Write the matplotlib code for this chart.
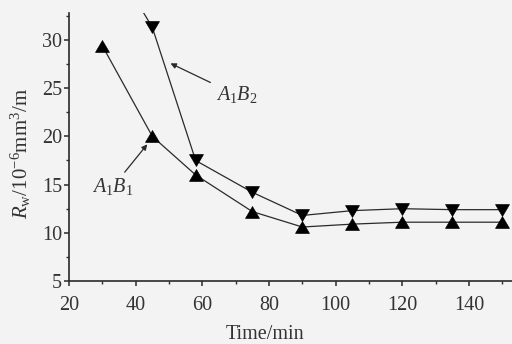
import matplotlib
matplotlib.use("Agg")
import matplotlib.pyplot as plt
from matplotlib.ticker import MultipleLocator

plt.rcParams['font.family'] = 'Liberation Serif'
plt.rcParams['mathtext.fontset'] = 'custom'
plt.rcParams['mathtext.rm'] = 'Liberation Serif'
plt.rcParams['mathtext.it'] = 'Liberation Serif:italic'

# data
time_b1 = [30, 45, 58, 75, 90, 105, 120, 135, 150]
rw_b1 = [29.4, 20.0, 16.0, 12.2, 10.6, 10.9, 11.1, 11.1, 11.1]
time_b2 = [30, 45, 58, 75, 90, 105, 120, 135, 150]
rw_b2 = [40.0, 31.3, 17.5, 14.2, 11.8, 12.3, 12.5, 12.4, 12.4]

bg = '#f3f3f3'
ink = '#2a2a2a'
txt = '#333333'

# slightly flattened triangles, like the printed ones
tri_up = [(0, 0.85), (-1, -0.85), (1, -0.85), (0, 0.85)]
tri_down = [(0, -0.85), (-1, 0.85), (1, 0.85), (0, -0.85)]

fig = plt.figure(figsize=(5.12, 3.44), dpi=100, facecolor=bg)
ax = fig.add_axes([69/512, 1 - 281/344, 443/512, 268/344])
ax.set_facecolor(bg)

ax.plot(time_b1, rw_b1, color=ink, lw=0.9, marker=tri_up, ms=10, mfc='black', mec='black', mew=0.5)
ax.plot(time_b2, rw_b2, color=ink, lw=0.9, marker=tri_down, ms=10, mfc='black', mec='black', mew=0.5)

ax.set_xlim(20, 152.9)
ax.set_ylim(5, 32.8)
ax.xaxis.set_major_locator(MultipleLocator(20))
ax.xaxis.set_minor_locator(MultipleLocator(10))
ax.yaxis.set_major_locator(MultipleLocator(5))
ax.yaxis.set_minor_locator(MultipleLocator(2.5))
ax.spines['top'].set_visible(False)
ax.spines['right'].set_visible(False)
for s in ['left', 'bottom']:
    ax.spines[s].set_color(ink)
    ax.spines[s].set_linewidth(1.2)
ax.tick_params(which='both', direction='out', colors=ink, labelsize=14.5, labelcolor=txt)
ax.tick_params(which='major', length=3.5, width=1.1)
ax.tick_params(which='minor', length=2.5, width=1.0)
ax.tick_params(axis='x', pad=7)
ax.tick_params(axis='y', pad=1.5)

ax.annotate(r'$A_1B_2$', xy=(49.7, 27.7), xytext=(64, 24.3), fontsize=14.5, color=txt,
            va='center', arrowprops=dict(arrowstyle='-|>', color=ink, lw=0.9, mutation_scale=8))
ax.annotate(r'$A_1B_1$', xy=(44, 19.4), xytext=(27, 14.8), fontsize=14.5, color=txt,
            va='center', arrowprops=dict(arrowstyle='-|>', color=ink, lw=0.9, mutation_scale=8, shrinkA=1))

ax.set_xlabel('Time/min', fontsize=14.5, color=txt)
ax.xaxis.set_label_coords(0.442, -0.165)
ax.set_ylabel(r'$R_{\mathrm{w}}/10^{-6}\mathrm{mm}^3/\mathrm{m}$', fontsize=15, color=txt)
ax.yaxis.set_label_coords(-0.081, 0.474)

fig.savefig('out.png', dpi=100, facecolor=bg)
